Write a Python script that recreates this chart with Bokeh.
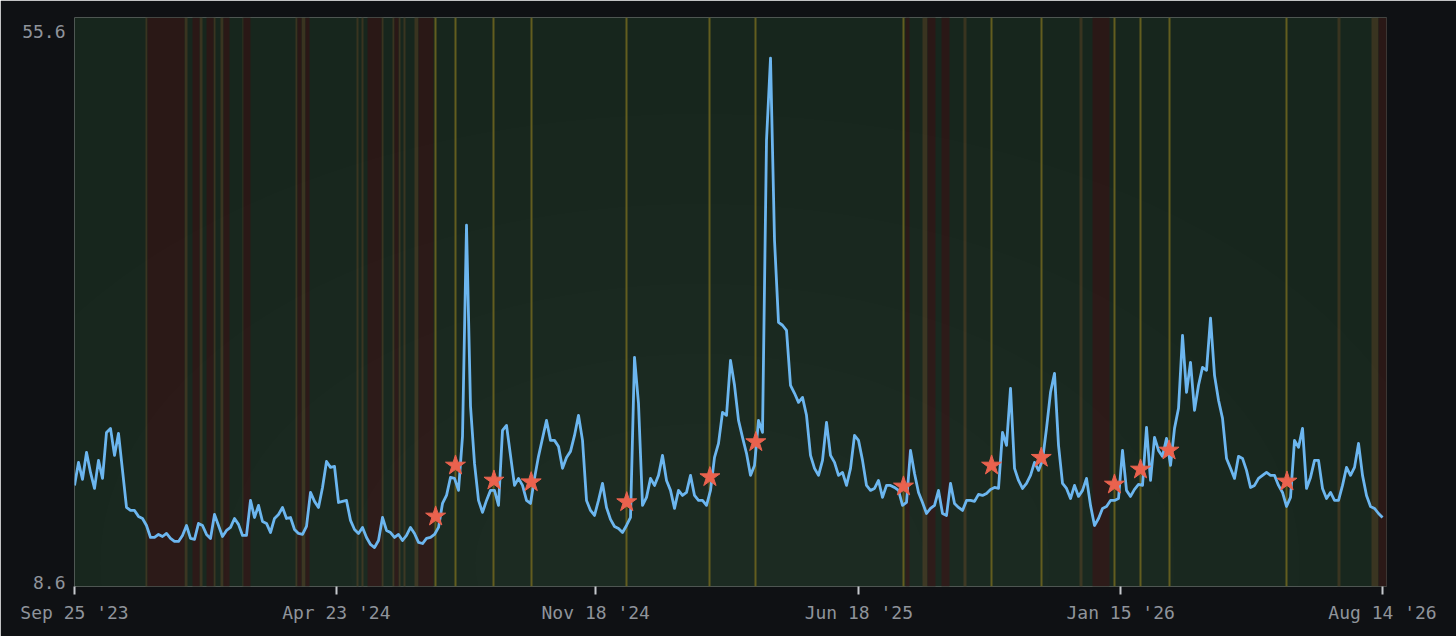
import pandas as pd
from bokeh.plotting import figure
from bokeh.models import Range1d, FixedTicker, DatetimeTickFormatter
from bokeh.embed import file_html
from bokeh.resources import INLINE

# ---------------- data ----------------
start_date = "2023-09-25"
end_date = "2026-08-14"

# index level, evenly spaced from start_date to end_date
vix = [
    16.95, 18.85, 17.45, 19.68, 18.02, 16.70, 19.02, 17.53, 21.33, 21.66,
    19.43, 21.25, 18.19, 15.13, 14.88, 14.88, 14.39, 14.22, 13.64, 12.65,
    12.65, 12.90, 12.73, 12.98, 12.57, 12.32, 12.32, 12.82, 13.64, 12.57,
    12.49, 13.81, 13.64, 12.90, 12.57, 14.55, 13.64, 12.73, 13.23, 13.48,
    14.22, 13.73, 12.82, 12.82, 15.71, 14.30, 15.30, 13.97, 13.81, 13.06,
    14.22, 14.55, 15.13, 14.22, 14.30, 13.31, 12.98, 12.90, 13.56, 16.37,
    15.63, 15.13, 16.78, 18.93, 18.44, 18.52, 15.54, 15.63, 15.71, 14.06,
    13.31, 12.98, 13.48, 12.65, 12.07, 11.82, 12.40, 14.30, 13.23, 13.06,
    12.65, 12.90, 12.40, 12.82, 13.48,
    12.98, 12.24, 12.15, 12.57, 12.65, 12.90, 13.48, 15.46, 16.12, 17.61,
    17.53, 16.54, 21.00, 38.44, 23.50, 18.77, 15.71, 14.72, 15.71, 16.54,
    16.54, 15.30, 21.50, 21.91, 19.43, 16.95, 17.53, 16.95, 15.71, 15.46,
    17.53, 19.35, 20.84, 22.32, 20.67, 20.67, 20.17, 18.36, 19.26, 19.76,
    21.08, 22.74, 20.67, 15.71, 14.88, 14.47, 15.71, 17.12, 15.13, 14.14,
    13.56, 13.39, 13.06, 13.64, 14.30, 27.53, 23.70, 15.30, 15.96, 17.53,
    16.95, 17.78, 19.43, 17.36, 16.54, 15.05, 16.54, 16.12, 16.37, 17.78,
    16.12, 15.71, 15.71, 15.30, 16.54, 19.26, 20.42, 22.98, 22.74, 27.28,
    25.22, 22.32, 20.92, 19.60, 17.78, 18.60, 22.32, 21.33, 45.47, 52.25,
    37.20, 30.42, 30.18, 29.76, 25.22, 24.56, 23.81, 24.22, 22.74, 19.43,
    18.36, 17.78, 19.02, 22.16, 19.43, 18.85, 17.78, 18.02, 16.95, 18.36,
    21.08, 20.67, 19.02, 16.95, 16.54, 16.70, 17.36, 15.96, 16.95, 16.95,
    16.78, 16.54, 15.30,
    15.54, 19.84, 17.94, 16.37, 15.54, 14.63, 15.05, 15.30, 16.54, 14.63,
    14.47, 17.12, 15.46, 15.13, 14.88, 15.71, 15.71, 15.63, 16.21, 16.12,
    16.29, 16.62, 16.78, 16.70, 21.33, 20.26, 24.97, 18.36, 17.36, 16.70,
    17.12, 17.78, 18.85, 18.19, 19.02, 21.66, 24.64, 26.21, 20.26, 17.12,
    16.70, 15.87, 16.95, 16.04, 16.54, 17.53, 15.30, 13.64, 14.22, 15.05,
    15.21, 15.71, 15.71, 15.87, 19.84, 16.54, 16.04,
    16.62, 17.03, 16.95, 21.74, 17.36, 20.92, 19.84, 19.35, 20.84, 18.60,
    21.66, 23.32, 29.35, 24.64, 27.12, 23.15, 25.22, 26.70, 26.46, 30.76,
    26.04, 23.98, 22.49, 19.18, 18.36, 17.53, 19.35, 19.18, 18.19, 16.78,
    16.95, 17.53, 17.78, 18.02, 17.78, 17.78, 16.95, 16.37, 15.21, 15.96,
    20.67, 20.09, 21.66, 16.70, 17.61, 19.02, 19.02, 16.70, 15.87, 16.37,
    15.71, 15.71, 16.95, 18.44, 17.78, 18.44, 20.42, 17.78, 16.12, 15.21,
    15.05, 14.63, 14.30,
]

y_ticks = [8.6, 55.6]
tick_dates = ["2023-09-25", "2024-04-23", "2024-11-18",
              "2025-06-18", "2026-01-15", "2026-08-14"]

event_dates = ["2024-07-12", "2024-07-28", "2024-08-28", "2024-09-27",
               "2024-12-13", "2025-02-18", "2025-03-27", "2025-07-24",
               "2025-10-03", "2025-11-12", "2026-01-10", "2026-01-31",
               "2026-02-23", "2026-05-29"]
event_values = [14.39, 18.60, 17.36, 17.22, 15.57, 17.64, 20.53, 16.87,
                18.60, 19.24, 17.03, 18.27, 19.84, 17.28]

riskoff_start = ["2023-11-23", "2023-12-29", "2024-01-09", "2024-01-23",
                 "2024-02-08", "2024-03-23", "2024-03-29", "2024-05-18",
                 "2024-06-09", "2024-06-28", "2025-07-26", "2025-08-12",
                 "2025-08-24", "2025-12-23", "2026-08-11"]
riskoff_end = ["2023-12-23", "2024-01-04", "2024-01-15", "2024-01-28",
               "2024-02-14", "2024-03-26", "2024-04-01", "2024-05-29",
               "2024-06-12", "2024-07-10", "2025-07-29", "2025-08-19",
               "2025-08-30", "2026-01-06", "2026-08-18"]

neutral_start = ["2023-11-21", "2023-12-23", "2024-01-04", "2024-01-15",
                 "2024-01-21", "2024-02-07", "2024-03-21", "2024-03-26",
                 "2024-05-09", "2024-05-13", "2024-05-29", "2024-06-07",
                 "2024-06-12", "2024-06-16", "2024-06-25", "2025-08-08",
                 "2025-09-10", "2025-12-13", "2026-07-09", "2026-08-05"]
neutral_end = ["2023-11-23", "2023-12-25", "2024-01-06", "2024-01-17",
               "2024-01-23", "2024-02-08", "2024-03-23", "2024-03-29",
               "2024-05-11", "2024-05-15", "2024-05-31", "2024-06-09",
               "2024-06-14", "2024-06-18", "2024-06-28", "2025-08-12",
               "2025-09-13", "2025-12-15", "2026-07-11", "2026-08-11"]

# ---------------- styles ----------------
PAGE_BG = "#0f1114"
GREEN_BG = "#17261d"
RED_BG = "#2a1816"
OLIVE_BG = "#393420"
EVENT_LINE = "#625d1f"
LINE_COLOR = "#6cb6ef"
STAR_COLOR = "#ea624e"
TEXT_COLOR = "#8f949b"
FONT = "DejaVu Sans Mono"

dates = pd.date_range(start_date, end_date, periods=len(vix))
ev_dt = pd.to_datetime(event_dates)

x_start = pd.Timestamp(start_date)
x_end = pd.Timestamp(end_date) + pd.Timedelta(hours=77)

p = figure(width=1456, height=636, x_axis_type="datetime",
           x_range=Range1d(x_start, x_end),
           y_range=Range1d(y_ticks[0], y_ticks[1]),
           output_backend="svg", toolbar_location=None,
           background_fill_color=GREEN_BG, border_fill_color=PAGE_BG,
           min_border_left=74, min_border_right=70,
           min_border_top=17, min_border_bottom=50)
p.outline_line_color = None
p.outline_line_alpha = 0
p.outline_line_width = 0
p.grid.visible = False

# regime shading and event markers
p.vstrip(x0=pd.to_datetime(neutral_start), x1=pd.to_datetime(neutral_end),
         fill_color=OLIVE_BG, line_color=None)
p.vstrip(x0=pd.to_datetime(riskoff_start), x1=pd.to_datetime(riskoff_end),
         fill_color=RED_BG, line_color=None)

# soft light in the lower middle of the panel (purely decorative)
glow_x = pd.Timestamp("2025-02-10")
for w, h in [(1500, 900), (1200, 720), (950, 560), (700, 420), (450, 280)]:
    p.ellipse(x=[glow_x], y=[10.5], width=w, height=h,
              width_units="screen", height_units="screen",
              fill_color="#ffffff", fill_alpha=0.007, line_color=None)

p.vspan(x=ev_dt, line_color=EVENT_LINE, line_width=2)

p.line(dates, vix, line_color=LINE_COLOR, line_width=2.8, line_join="round")
p.scatter(ev_dt, event_values, marker="star", size=21,
          fill_color=STAR_COLOR, line_color=STAR_COLOR)

# x axis
ax = p.xaxis[0]
ax.ticker = FixedTicker(ticks=[pd.Timestamp(d).value / 1e6 for d in tick_dates])
fmt = "%b %d '%y"
ax.formatter = DatetimeTickFormatter(
    microseconds=fmt, milliseconds=fmt, seconds=fmt, minsec=fmt, minutes=fmt,
    hourmin=fmt, hours=fmt, days=fmt, months=fmt, years=fmt)
ax.axis_line_color = None
ax.major_tick_line_color = "#c6c9cd"
ax.major_tick_line_width = 2
ax.major_tick_out = 8
ax.major_tick_in = 0
ax.minor_tick_line_color = None
ax.major_label_text_font = FONT
ax.major_label_text_font_size = "18px"
ax.major_label_text_color = TEXT_COLOR
ax.major_label_standoff = 7

# y axis: only the range bounds are labelled, drawn just inside the panel edges
frame_px = 636 - 17 - 50
px = (y_ticks[1] - y_ticks[0]) / frame_px
top_pos = round(y_ticks[1] - 14 * px, 2)
bot_pos = round(y_ticks[0] + 4 * px, 2)
yax = p.yaxis[0]
yax.ticker = FixedTicker(ticks=[bot_pos, top_pos])
yax.major_label_overrides = {bot_pos: f"{y_ticks[0]:.1f}", top_pos: f"{y_ticks[1]:.1f}"}
yax.axis_line_color = None
yax.major_tick_line_color = None
yax.minor_tick_line_color = None
yax.major_tick_out = 0
yax.major_tick_in = 0
yax.major_label_standoff = 9
yax.major_label_text_font = FONT
yax.major_label_text_font_size = "18px"
yax.major_label_text_color = TEXT_COLOR

html = file_html(p, INLINE, title="VIX regimes")
html = html.replace("<body>", '<body style="background-color:%s;">' % PAGE_BG, 1)
open("out.html", "w").write(html)
